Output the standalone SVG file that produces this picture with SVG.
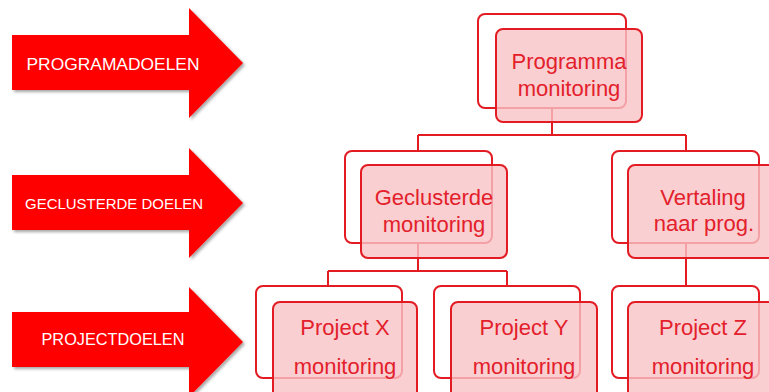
<svg xmlns="http://www.w3.org/2000/svg" width="769" height="392" viewBox="0 0 769 392">
  <defs>
    <filter id="shadow" x="-10%" y="-10%" width="130%" height="130%">
      <feDropShadow dx="2" dy="2" stdDeviation="1.5" flood-color="#000" flood-opacity="0.35"/>
    </filter>
  </defs>
  <style>
    .arrow { fill: #ff0000; filter: url(#shadow); }
    .arrow-label { fill: #ffffff; font-family: "Liberation Sans", Arial, sans-serif; text-anchor: middle; }
    .back { fill: #ffffff; stroke: #e31b23; stroke-width: 2; }
    .front { fill: #f7c3c6; fill-opacity: 0.8; stroke: #e31b23; stroke-width: 2; }
    .label { fill: #e3202b; font-family: "Liberation Sans", Arial, sans-serif; font-size: 22px; text-anchor: middle; }
    .conn { fill: none; stroke: #e31b23; stroke-width: 2; }
  </style>
  <rect width="769" height="392" fill="#ffffff"/>

  <!-- level arrows -->
  <g id="arrow-programadoelen">
    <polygon class="arrow" points="12,35 189,35 189,8 243,63 189,118 189,90 12,90"/>
    <text class="arrow-label" x="113" y="70" font-size="17" textLength="173" lengthAdjust="spacingAndGlyphs">PROGRAMADOELEN</text>
  </g>
  <g id="arrow-geclusterde-doelen">
    <polygon class="arrow" points="12,175 189,175 189,148 243,203 189,258 189,230 12,230"/>
    <text class="arrow-label" x="114" y="209" font-size="15" textLength="178" lengthAdjust="spacingAndGlyphs">GECLUSTERDE DOELEN</text>
  </g>
  <g id="arrow-projectdoelen">
    <polygon class="arrow" points="12,312 189,312 189,287 243,342 189,397 189,367 12,367"/>
    <text class="arrow-label" x="113" y="345" font-size="16" textLength="143" lengthAdjust="spacingAndGlyphs">PROJECTDOELEN</text>
  </g>

  <!-- connectors -->
  <g id="connectors">
    <path class="conn" d="M552,108 V135 M418,135 H686 M418,135 V151 M686,135 V151"/>
    <path class="conn" d="M418,243 V271 M328,271 H507 M328,271 V286 M507,271 V286"/>
    <path class="conn" d="M686,243 V286"/>
  </g>

  <!-- nodes -->
  <g id="programma-monitoring">
    <rect class="back" x="478" y="14" width="148" height="94" rx="7"/>
    <rect class="front" x="496" y="29" width="146" height="93" rx="7"/>
    <text class="label" x="569" y="69">Programma</text>
    <text class="label" x="569" y="96">monitoring</text>
  </g>
  <g id="geclusterde-monitoring">
    <rect class="back" x="345" y="151" width="147" height="92" rx="7"/>
    <rect class="front" x="361" y="165" width="146" height="93" rx="7"/>
    <text class="label" x="434" y="205">Geclusterde</text>
    <text class="label" x="434" y="232">monitoring</text>
  </g>
  <g id="vertaling-naar-prog">
    <rect class="back" x="612" y="151" width="147" height="92" rx="7"/>
    <rect class="front" x="628" y="165" width="149" height="93" rx="7"/>
    <text class="label" x="703" y="205">Vertaling</text>
    <text class="label" x="704" y="231">naar prog.</text>
  </g>
  <g id="project-x-monitoring">
    <rect class="back" x="256" y="286" width="146" height="92" rx="7"/>
    <rect class="front" x="273" y="302" width="144" height="100" rx="7"/>
    <text class="label" x="345" y="335">Project X</text>
    <text class="label" x="345" y="374">monitoring</text>
  </g>
  <g id="project-y-monitoring">
    <rect class="back" x="434" y="286" width="146" height="92" rx="7"/>
    <rect class="front" x="451" y="302" width="146" height="100" rx="7"/>
    <text class="label" x="524" y="335">Project Y</text>
    <text class="label" x="524" y="374">monitoring</text>
  </g>
  <g id="project-z-monitoring">
    <rect class="back" x="612" y="286" width="147" height="92" rx="7"/>
    <rect class="front" x="628" y="302" width="149" height="100" rx="7"/>
    <text class="label" x="703" y="335">Project Z</text>
    <text class="label" x="703" y="374">monitoring</text>
  </g>
</svg>
